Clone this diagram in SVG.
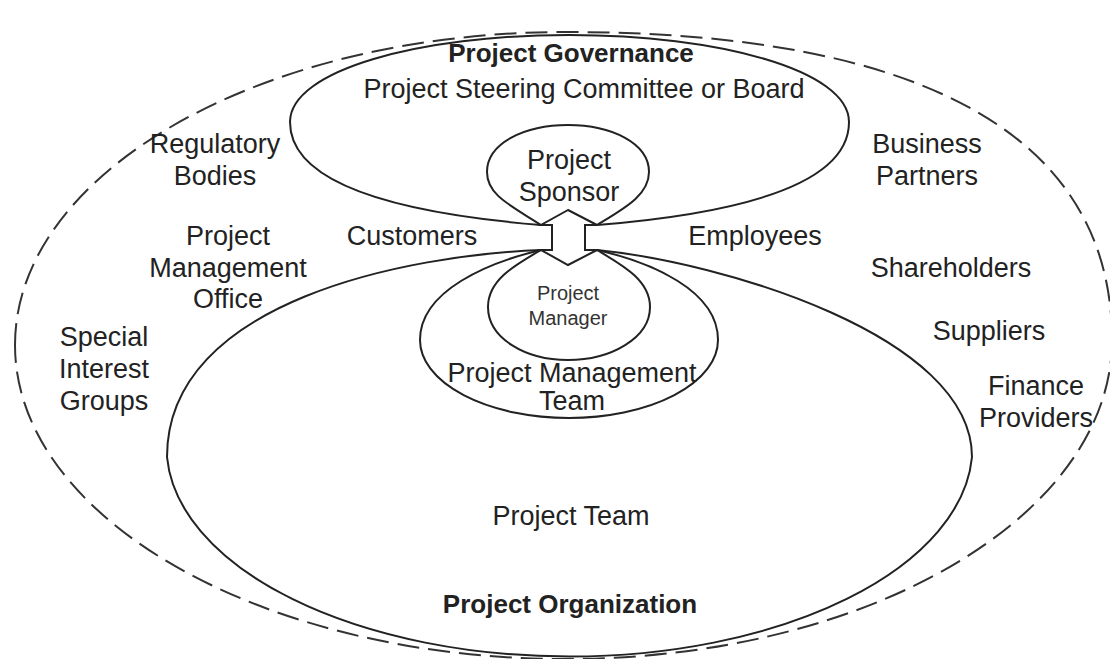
<svg xmlns="http://www.w3.org/2000/svg" width="1110" height="659" viewBox="0 0 1110 659">
<style>
.sh{fill:none;stroke:#222;stroke-width:2}
.dash{fill:none;stroke:#333;stroke-width:2;stroke-dasharray:22 9}
text{font-family:"Liberation Sans",Arial,sans-serif;font-size:27px;fill:#222;text-anchor:middle}
.b{font-weight:bold;font-size:26px}
.s{font-size:20px;fill:#333}
</style>
<rect width="1110" height="659" fill="#fff"/>
<g id="stakeholders">
<path class="dash" d="M15,345 C15,172 262,32 566,32 C930,32 1112,140 1112,340 C1112,516 868,659 566,659 C262,659 15,518 15,345 Z"/>
<text x="215" y="153">Regulatory</text><text x="215" y="185">Bodies</text>
<text x="228" y="245">Project</text><text x="228" y="277">Management</text><text x="228" y="308">Office</text>
<text x="104" y="346">Special</text><text x="104" y="378">Interest</text><text x="104" y="410">Groups</text>
<text x="412" y="245">Customers</text>
<text x="755" y="245">Employees</text>
<text x="927" y="153">Business</text><text x="927" y="185">Partners</text>
<text x="951" y="277">Shareholders</text>
<text x="989" y="340">Suppliers</text>
<text x="1036" y="395">Finance</text><text x="1036" y="427">Providers</text>
</g>
<g id="governance">
<path class="sh" d="M541,225 C420,215 290,190 290,122 C290,70 420,35 569,35 C718,35 849,70 849,122 C849,190 720,215 597,225"/>
<text class="b" x="571" y="62">Project Governance</text>
<text x="584" y="98">Project Steering Committee or Board</text>
</g>
<g id="sponsor">
<path class="sh" d="M541,225 C510,205 487,195 487,172 C487,143 525,125 568,125 C611,125 649,143 649,172 C649,195 625,208 597,225"/>
<text x="569" y="169">Project</text><text x="569" y="201">Sponsor</text>
</g>
<g id="organization">
<path class="sh" d="M541,250 C410,255 167,300 167,457 A403,210 0 0 0 972,457 C972,335 720,262 597,250"/>
<text x="571" y="525">Project Team</text>
<text class="b" x="570" y="613">Project Organization</text>
</g>
<g id="pm-team">
<path class="sh" d="M541,250 C490,262 420,290 420,340 A149,78 0 0 0 718,340 C718,290 650,262 597,250"/>
<text x="572" y="382">Project Management</text><text x="572" y="410">Team</text>
</g>
<g id="manager">
<path class="sh" d="M541,250 C515,265 488,280 488,307 C488,338 525,360 568,360 C611,360 650,338 650,307 C650,280 622,265 597,250"/>
<text class="s" x="568" y="300">Project</text><text class="s" x="568" y="325">Manager</text>
</g>
<g id="connectors">
<path fill="#fff" stroke="#222" stroke-width="2" stroke-linejoin="miter" d="M568,210 L541,225 L552,225 L552,250 L541,250 L568,265 L597,250 L585,250 L585,225 L597,225 Z"/>
</g>
</svg>
